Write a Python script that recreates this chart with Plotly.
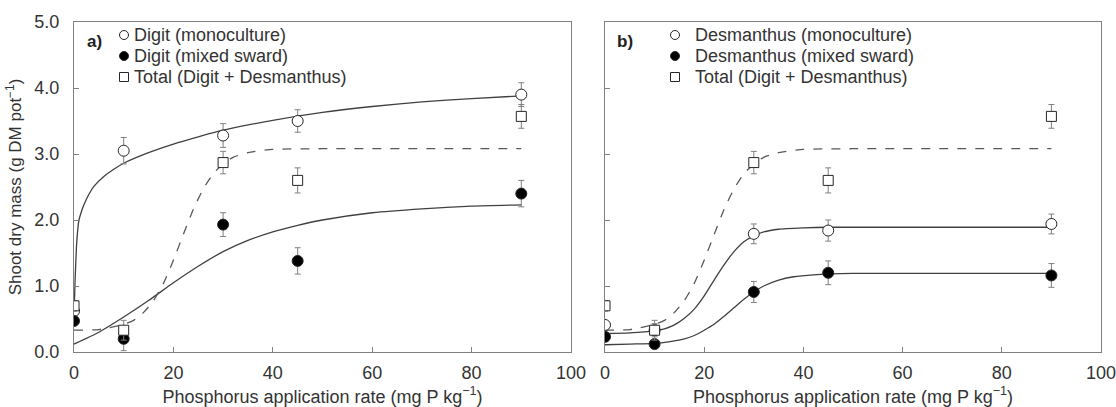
import plotly.graph_objects as go

# ---------------- data ----------------
p_rate = [0, 10, 30, 45, 90]

digit_mono = [0.62, 3.05, 3.28, 3.50, 3.90]
digit_mono_err = [0.06, 0.20, 0.18, 0.17, 0.18]
digit_mixed = [0.47, 0.20, 1.93, 1.38, 2.40]
digit_mixed_err = [0.05, 0.18, 0.18, 0.20, 0.20]

total = [0.70, 0.33, 2.87, 2.60, 3.57]
total_err = [0.08, 0.15, 0.17, 0.19, 0.18]

desm_mono = [0.41, 0.33, 1.79, 1.84, 1.94]
desm_mono_err = [0.05, 0.10, 0.15, 0.16, 0.15]
desm_mixed = [0.23, 0.12, 0.91, 1.20, 1.16]
desm_mixed_err = [0.05, 0.05, 0.16, 0.18, 0.18]

# fitted curves
fit_digit_mono_x = [0, 0.1, 0.25, 0.5, 0.75, 1, 1.5, 2, 3, 4, 6, 8, 10, 15, 20, 25, 30, 40, 50, 60, 70, 80, 90]
fit_digit_mono_y = [0.60, 0.80, 1.15, 1.60, 1.85, 2.00, 2.13, 2.23, 2.39, 2.51, 2.66, 2.77, 2.86, 3.02, 3.15,
                    3.26, 3.36, 3.51, 3.63, 3.72, 3.79, 3.84, 3.88]

fit_digit_mixed_x = [0, 5, 10, 15, 20, 25, 30, 35, 40, 45, 50, 60, 70, 80, 90]
fit_digit_mixed_y = [0.12, 0.30, 0.53, 0.78, 1.05, 1.30, 1.52, 1.69, 1.82, 1.92, 2.00, 2.11, 2.17, 2.21, 2.23]

fit_total_x = [0, 5, 10, 12, 14, 16, 18, 20, 22, 24, 26, 28, 30, 32, 35, 40, 50, 90]
fit_total_y = [0.33, 0.34, 0.42, 0.48, 0.60, 0.78, 1.04, 1.39, 1.78, 2.16, 2.47, 2.70, 2.85, 2.95, 3.02,
               3.07, 3.08, 3.08]

fit_desm_mono_x = [0, 5, 10, 12, 14, 16, 18, 20, 22, 24, 26, 28, 30, 32, 35, 40, 45, 90]
fit_desm_mono_y = [0.28, 0.29, 0.32, 0.35, 0.41, 0.51, 0.65, 0.85, 1.09, 1.32, 1.52, 1.67, 1.76, 1.82, 1.86,
                   1.88, 1.89, 1.89]

fit_desm_mixed_x = [0, 5, 10, 14, 16, 18, 20, 22, 24, 26, 28, 30, 32, 35, 38, 42, 50, 90]
fit_desm_mixed_y = [0.11, 0.12, 0.13, 0.17, 0.20, 0.25, 0.33, 0.42, 0.54, 0.67, 0.80, 0.91, 1.00, 1.09, 1.14,
                    1.17, 1.19, 1.19]

x_ticks = [0, 20, 40, 60, 80, 100]
y_ticks = [0, 1, 2, 3, 4, 5]

legend_a = ["Digit (monoculture)", "Digit (mixed sward)", "Total (Digit + Desmanthus)"]
legend_b = ["Desmanthus (monoculture)", "Desmanthus (mixed sward)", "Total (Digit + Desmanthus)"]

# ---------------- style ----------------
FONT = "Liberation Sans, Arial, sans-serif"
TXT = "#333333"
CURVE = "#404040"
DASH = "#595959"
EDGE = "#262626"
ERR = "#808080"
AX = "#808080"

FW, FH = 1116, 407
L, R, T, B = 74, 15, 22, 55
W = FW - L - R
H = FH - T - B


def px_x(p):
    return (p - L) / W


def px_y(p):
    return 1 - (p - T) / H


fig = go.Figure()


def curve(x, y, xa, ya, dash=None, color=CURVE):
    fig.add_trace(go.Scatter(x=x, y=y, mode="lines", xaxis=xa, yaxis=ya, showlegend=False,
                             line=dict(color=color, width=1.3, dash=dash, shape="spline", smoothing=0.6),
                             hoverinfo="skip"))


def points(y, err, name, symbol, fill, xa, ya):
    fig.add_trace(go.Scatter(
        x=p_rate, y=y, mode="markers", name=name, xaxis=xa, yaxis=ya, showlegend=False,
        marker=dict(symbol=symbol, size=11 if "circle" in symbol else 10, color=fill,
                    line=dict(color=EDGE, width=1)),
        error_y=dict(type="data", array=err, visible=True, color=ERR, thickness=1, width=3),
    ))


# panel a
curve(fit_digit_mono_x, fit_digit_mono_y, "x", "y")
curve(fit_digit_mixed_x, fit_digit_mixed_y, "x", "y")
curve(fit_total_x, fit_total_y, "x", "y", dash="dash", color=DASH)
points(digit_mono, digit_mono_err, legend_a[0], "circle", "white", "x", "y")
points(digit_mixed, digit_mixed_err, legend_a[1], "circle", "black", "x", "y")
points(total, total_err, legend_a[2], "square", "white", "x", "y")

# panel b
curve(fit_desm_mono_x, fit_desm_mono_y, "x2", "y2")
curve(fit_desm_mixed_x, fit_desm_mixed_y, "x2", "y2")
curve(fit_total_x, fit_total_y, "x2", "y2", dash="dash", color=DASH)
points(desm_mono, desm_mono_err, legend_b[0], "circle", "white", "x2", "y2")
points(desm_mixed, desm_mixed_err, legend_b[1], "circle", "black", "x2", "y2")
points(total, total_err, legend_b[2], "square", "white", "x2", "y2")

xcommon = dict(range=[0, 100], tickvals=x_ticks, ticks="inside", ticklen=5, tickcolor=AX, automargin=False,
               showline=True, linecolor=AX, linewidth=1.3, mirror=True, showgrid=False, zeroline=False,
               tickfont=dict(size=18, color=TXT, family=FONT), ticklabelstandoff=4,
               ticklabeloverflow="allow",
               title=dict(text="Phosphorus application rate (mg P kg<sup>−1</sup>)",
                          font=dict(size=18, color=TXT, family=FONT), standoff=13))
ycommon = dict(range=[0, 5], tickvals=y_ticks, ticks="inside", ticklen=5, tickcolor=AX, automargin=False,
               showline=True, linecolor=AX, linewidth=1.3, mirror=True, showgrid=False, zeroline=False,
               tickformat=".1f", tickfont=dict(size=18, color=TXT, family=FONT), ticklabelstandoff=10,
               ticklabeloverflow="allow")

dom_a = [0, px_x(571)]
dom_b = [px_x(605), 1]

# legend drawn inside each panel: symbols as shapes, labels as text
shapes = []
annotations = []
legend_rows = [35, 56, 77]
legend_styles = [("circle", "white"), ("circle", "black"), ("square", "white")]
for labels, mx, tx in [(legend_a, 124, 132), (legend_b, 675, 693)]:
    for lab, ry, (sym, fill) in zip(labels, legend_rows, legend_styles):
        shapes.append(dict(type="circle" if sym == "circle" else "rect", xref="paper", yref="paper",
                           xsizemode="pixel", ysizemode="pixel", xanchor=px_x(mx), yanchor=px_y(ry),
                           x0=-4.5, x1=4.5, y0=-4.5, y1=4.5,
                           fillcolor=fill, line=dict(color=EDGE, width=1)))
        annotations.append(dict(text=lab, xref="paper", yref="paper", x=px_x(tx), y=px_y(ry),
                                xanchor="left", yanchor="middle", showarrow=False,
                                font=dict(size=18, color=TXT, family=FONT)))

annotations += [
    dict(text="<b>a)</b>", xref="paper", yref="paper", x=px_x(85), y=px_y(42), xanchor="left",
         yanchor="middle", showarrow=False, font=dict(size=17, color="#222222", family=FONT)),
    dict(text="<b>b)</b>", xref="paper", yref="paper", x=px_x(615), y=px_y(42), xanchor="left",
         yanchor="middle", showarrow=False, font=dict(size=17, color="#222222", family=FONT)),
]

fig.update_layout(
    width=FW, height=FH, autosize=False,
    margin=dict(l=L, r=R, t=T, b=B, autoexpand=False),
    paper_bgcolor="white", plot_bgcolor="white",
    font=dict(family=FONT, size=18, color=TXT),
    showlegend=False,
    xaxis=dict(domain=dom_a, anchor="y", **xcommon),
    yaxis=dict(domain=[0, 1], anchor="x",
               title=dict(text="Shoot dry mass (g DM pot<sup>−1</sup>)",
                          font=dict(size=17, color=TXT, family=FONT), standoff=8),
               **ycommon),
    xaxis2=dict(domain=dom_b, anchor="y2", **xcommon),
    yaxis2=dict(domain=[0, 1], anchor="x2", showticklabels=False, **ycommon),
    shapes=shapes,
    annotations=annotations,
)

# page without the default body margin so the figure fills the window exactly
fig.write_html("out.html", config={"displayModeBar": False},
               post_script="document.body.style.margin='0';document.documentElement.style.overflow='hidden';")
